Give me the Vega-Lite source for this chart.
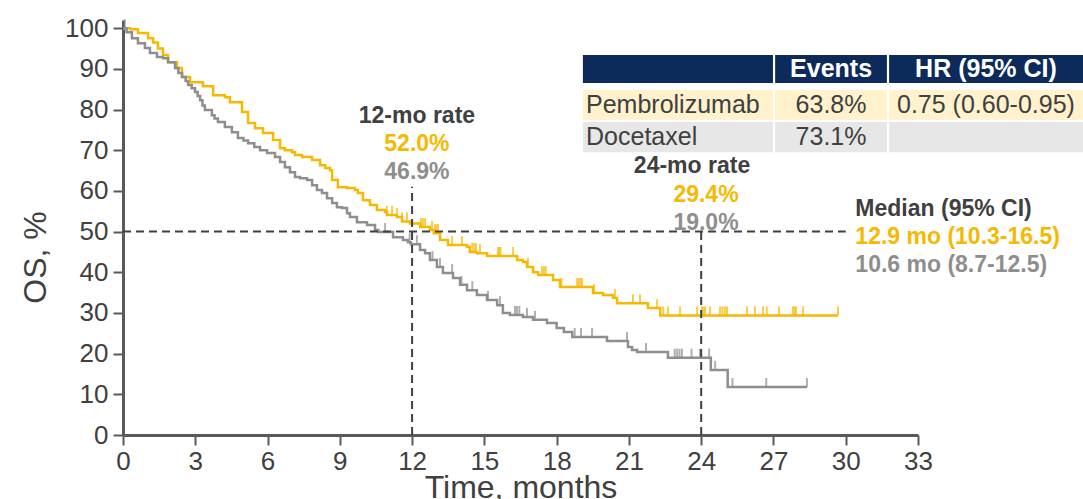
{
  "$schema": "https://vega.github.io/schema/vega-lite/v6.json",
  "width": 795,
  "height": 415,
  "padding": {"left": 123, "top": 20, "right": 165, "bottom": 64},
  "autosize": {"type": "none"},
  "background": "white",
  "config": {
    "font": "Liberation Sans",
    "view": {"stroke": null},
    "axis": {"grid": false}
  },
  "datasets": {
    "km": [
      {"arm": "Pembrolizumab", "time": 0, "surv": 100},
      {"arm": "Pembrolizumab", "time": 0.3, "surv": 99.7},
      {"arm": "Pembrolizumab", "time": 0.62, "surv": 98.8},
      {"arm": "Pembrolizumab", "time": 1.04, "surv": 97.5},
      {"arm": "Pembrolizumab", "time": 1.25, "surv": 96.5},
      {"arm": "Pembrolizumab", "time": 1.45, "surv": 95.0},
      {"arm": "Pembrolizumab", "time": 1.66, "surv": 93.4},
      {"arm": "Pembrolizumab", "time": 1.87, "surv": 91.6},
      {"arm": "Pembrolizumab", "time": 2.24, "surv": 90.2},
      {"arm": "Pembrolizumab", "time": 2.45, "surv": 88.0},
      {"arm": "Pembrolizumab", "time": 2.78, "surv": 86.7},
      {"arm": "Pembrolizumab", "time": 3.32, "surv": 85.7},
      {"arm": "Pembrolizumab", "time": 3.74, "surv": 83.5},
      {"arm": "Pembrolizumab", "time": 4.23, "surv": 83.0},
      {"arm": "Pembrolizumab", "time": 4.44, "surv": 81.8},
      {"arm": "Pembrolizumab", "time": 4.94, "surv": 79.4},
      {"arm": "Pembrolizumab", "time": 5.19, "surv": 76.7},
      {"arm": "Pembrolizumab", "time": 5.48, "surv": 75.4},
      {"arm": "Pembrolizumab", "time": 5.81, "surv": 74.2},
      {"arm": "Pembrolizumab", "time": 6.23, "surv": 72.5},
      {"arm": "Pembrolizumab", "time": 6.52, "surv": 70.5},
      {"arm": "Pembrolizumab", "time": 6.72, "surv": 70.0},
      {"arm": "Pembrolizumab", "time": 7.02, "surv": 69.5},
      {"arm": "Pembrolizumab", "time": 7.14, "surv": 68.8},
      {"arm": "Pembrolizumab", "time": 7.43, "surv": 68.3},
      {"arm": "Pembrolizumab", "time": 7.85, "surv": 67.6},
      {"arm": "Pembrolizumab", "time": 8.18, "surv": 66.3},
      {"arm": "Pembrolizumab", "time": 8.39, "surv": 65.6},
      {"arm": "Pembrolizumab", "time": 8.59, "surv": 65.1},
      {"arm": "Pembrolizumab", "time": 8.68, "surv": 62.7},
      {"arm": "Pembrolizumab", "time": 8.92, "surv": 60.9},
      {"arm": "Pembrolizumab", "time": 9.30, "surv": 60.7},
      {"arm": "Pembrolizumab", "time": 9.63, "surv": 60.2},
      {"arm": "Pembrolizumab", "time": 9.75, "surv": 59.5},
      {"arm": "Pembrolizumab", "time": 9.96, "surv": 57.7},
      {"arm": "Pembrolizumab", "time": 10.25, "surv": 56.5},
      {"arm": "Pembrolizumab", "time": 10.54, "surv": 55.3},
      {"arm": "Pembrolizumab", "time": 10.88, "surv": 54.8},
      {"arm": "Pembrolizumab", "time": 10.96, "surv": 54.1},
      {"arm": "Pembrolizumab", "time": 11.37, "surv": 53.6},
      {"arm": "Pembrolizumab", "time": 11.58, "surv": 52.5},
      {"arm": "Pembrolizumab", "time": 11.91, "surv": 52.0},
      {"arm": "Pembrolizumab", "time": 12.33, "surv": 51.1},
      {"arm": "Pembrolizumab", "time": 12.74, "surv": 50.4},
      {"arm": "Pembrolizumab", "time": 12.9, "surv": 49.6},
      {"arm": "Pembrolizumab", "time": 13.16, "surv": 47.9},
      {"arm": "Pembrolizumab", "time": 13.49, "surv": 46.7},
      {"arm": "Pembrolizumab", "time": 14.28, "surv": 46.2},
      {"arm": "Pembrolizumab", "time": 14.40, "surv": 45.0},
      {"arm": "Pembrolizumab", "time": 14.69, "surv": 44.7},
      {"arm": "Pembrolizumab", "time": 15.11, "surv": 44.0},
      {"arm": "Pembrolizumab", "time": 16.36, "surv": 43.0},
      {"arm": "Pembrolizumab", "time": 16.60, "surv": 42.5},
      {"arm": "Pembrolizumab", "time": 16.77, "surv": 41.3},
      {"arm": "Pembrolizumab", "time": 17.02, "surv": 40.0},
      {"arm": "Pembrolizumab", "time": 17.23, "surv": 39.3},
      {"arm": "Pembrolizumab", "time": 17.85, "surv": 38.1},
      {"arm": "Pembrolizumab", "time": 18.14, "surv": 36.4},
      {"arm": "Pembrolizumab", "time": 19.51, "surv": 34.9},
      {"arm": "Pembrolizumab", "time": 19.93, "surv": 34.4},
      {"arm": "Pembrolizumab", "time": 20.34, "surv": 33.7},
      {"arm": "Pembrolizumab", "time": 20.51, "surv": 32.4},
      {"arm": "Pembrolizumab", "time": 21.79, "surv": 31.2},
      {"arm": "Pembrolizumab", "time": 22.3, "surv": 29.4},
      {"arm": "Pembrolizumab", "time": 29.68, "surv": 29.4},
      {"arm": "Docetaxel", "time": 0, "surv": 100},
      {"arm": "Docetaxel", "time": 0.15, "surv": 99.0},
      {"arm": "Docetaxel", "time": 0.37, "surv": 97.5},
      {"arm": "Docetaxel", "time": 0.62, "surv": 96.3},
      {"arm": "Docetaxel", "time": 0.91, "surv": 95.1},
      {"arm": "Docetaxel", "time": 1.12, "surv": 93.9},
      {"arm": "Docetaxel", "time": 1.41, "surv": 92.9},
      {"arm": "Docetaxel", "time": 1.66, "surv": 92.6},
      {"arm": "Docetaxel", "time": 1.87, "surv": 91.6},
      {"arm": "Docetaxel", "time": 2.16, "surv": 90.2},
      {"arm": "Docetaxel", "time": 2.3, "surv": 89.0},
      {"arm": "Docetaxel", "time": 2.45, "surv": 88.0},
      {"arm": "Docetaxel", "time": 2.6, "surv": 87.0},
      {"arm": "Docetaxel", "time": 2.70, "surv": 86.0},
      {"arm": "Docetaxel", "time": 2.85, "surv": 85.2},
      {"arm": "Docetaxel", "time": 2.99, "surv": 84.3},
      {"arm": "Docetaxel", "time": 3.1, "surv": 83.3},
      {"arm": "Docetaxel", "time": 3.20, "surv": 82.3},
      {"arm": "Docetaxel", "time": 3.3, "surv": 81.0},
      {"arm": "Docetaxel", "time": 3.40, "surv": 79.9},
      {"arm": "Docetaxel", "time": 3.69, "surv": 78.6},
      {"arm": "Docetaxel", "time": 3.8, "surv": 77.8},
      {"arm": "Docetaxel", "time": 3.94, "surv": 76.9},
      {"arm": "Docetaxel", "time": 4.23, "surv": 75.7},
      {"arm": "Docetaxel", "time": 4.52, "surv": 74.4},
      {"arm": "Docetaxel", "time": 4.77, "surv": 73.0},
      {"arm": "Docetaxel", "time": 5.0, "surv": 72.4},
      {"arm": "Docetaxel", "time": 5.19, "surv": 71.7},
      {"arm": "Docetaxel", "time": 5.45, "surv": 70.8},
      {"arm": "Docetaxel", "time": 5.69, "surv": 70.0},
      {"arm": "Docetaxel", "time": 5.98, "surv": 69.3},
      {"arm": "Docetaxel", "time": 6.31, "surv": 68.3},
      {"arm": "Docetaxel", "time": 6.52, "surv": 67.1},
      {"arm": "Docetaxel", "time": 6.72, "surv": 65.8},
      {"arm": "Docetaxel", "time": 6.93, "surv": 64.6},
      {"arm": "Docetaxel", "time": 7.14, "surv": 63.4},
      {"arm": "Docetaxel", "time": 7.35, "surv": 63.1},
      {"arm": "Docetaxel", "time": 7.64, "surv": 62.7},
      {"arm": "Docetaxel", "time": 7.85, "surv": 61.4},
      {"arm": "Docetaxel", "time": 8.05, "surv": 60.2},
      {"arm": "Docetaxel", "time": 8.26, "surv": 59.5},
      {"arm": "Docetaxel", "time": 8.47, "surv": 58.2},
      {"arm": "Docetaxel", "time": 8.68, "surv": 57.0},
      {"arm": "Docetaxel", "time": 8.88, "surv": 56.0},
      {"arm": "Docetaxel", "time": 9.09, "surv": 55.8},
      {"arm": "Docetaxel", "time": 9.30, "surv": 54.5},
      {"arm": "Docetaxel", "time": 9.42, "surv": 53.6},
      {"arm": "Docetaxel", "time": 9.71, "surv": 52.3},
      {"arm": "Docetaxel", "time": 10.13, "surv": 51.6},
      {"arm": "Docetaxel", "time": 10.46, "surv": 50.4},
      {"arm": "Docetaxel", "time": 10.6, "surv": 49.9},
      {"arm": "Docetaxel", "time": 11.21, "surv": 48.6},
      {"arm": "Docetaxel", "time": 11.62, "surv": 47.9},
      {"arm": "Docetaxel", "time": 11.83, "surv": 47.4},
      {"arm": "Docetaxel", "time": 11.95, "surv": 46.9},
      {"arm": "Docetaxel", "time": 12.33, "surv": 45.5},
      {"arm": "Docetaxel", "time": 12.54, "surv": 44.7},
      {"arm": "Docetaxel", "time": 12.74, "surv": 43.0},
      {"arm": "Docetaxel", "time": 13.03, "surv": 41.3},
      {"arm": "Docetaxel", "time": 13.28, "surv": 39.8},
      {"arm": "Docetaxel", "time": 13.70, "surv": 38.6},
      {"arm": "Docetaxel", "time": 13.99, "surv": 36.9},
      {"arm": "Docetaxel", "time": 14.28, "surv": 35.6},
      {"arm": "Docetaxel", "time": 14.69, "surv": 34.4},
      {"arm": "Docetaxel", "time": 15.11, "surv": 33.2},
      {"arm": "Docetaxel", "time": 15.53, "surv": 31.9},
      {"arm": "Docetaxel", "time": 15.77, "surv": 30.0},
      {"arm": "Docetaxel", "time": 16.06, "surv": 29.5},
      {"arm": "Docetaxel", "time": 16.60, "surv": 29.0},
      {"arm": "Docetaxel", "time": 17.02, "surv": 28.3},
      {"arm": "Docetaxel", "time": 17.60, "surv": 27.5},
      {"arm": "Docetaxel", "time": 18.0, "surv": 26.3},
      {"arm": "Docetaxel", "time": 18.3, "surv": 25.3},
      {"arm": "Docetaxel", "time": 18.65, "surv": 24.1},
      {"arm": "Docetaxel", "time": 20.09, "surv": 23.1},
      {"arm": "Docetaxel", "time": 20.96, "surv": 21.6},
      {"arm": "Docetaxel", "time": 21.13, "surv": 20.9},
      {"arm": "Docetaxel", "time": 21.34, "surv": 20.4},
      {"arm": "Docetaxel", "time": 22.62, "surv": 19.0},
      {"arm": "Docetaxel", "time": 24.40, "surv": 16.0},
      {"arm": "Docetaxel", "time": 25.10, "surv": 11.8},
      {"arm": "Docetaxel", "time": 28.39, "surv": 11.8}
    ],
    "censored": [
      {"arm": "Pembrolizumab", "time": 10.96, "surv": 54.1},
      {"arm": "Pembrolizumab", "time": 11.17, "surv": 54.1},
      {"arm": "Pembrolizumab", "time": 11.37, "surv": 53.6},
      {"arm": "Pembrolizumab", "time": 11.58, "surv": 52.5},
      {"arm": "Pembrolizumab", "time": 11.79, "surv": 52.5},
      {"arm": "Pembrolizumab", "time": 12.37, "surv": 51.1},
      {"arm": "Pembrolizumab", "time": 12.45, "surv": 51.1},
      {"arm": "Pembrolizumab", "time": 12.54, "surv": 51.1},
      {"arm": "Pembrolizumab", "time": 12.83, "surv": 50.4},
      {"arm": "Pembrolizumab", "time": 12.95, "surv": 49.6},
      {"arm": "Pembrolizumab", "time": 13.02, "surv": 49.6},
      {"arm": "Pembrolizumab", "time": 13.08, "surv": 49.6},
      {"arm": "Pembrolizumab", "time": 13.66, "surv": 46.7},
      {"arm": "Pembrolizumab", "time": 14.07, "surv": 46.7},
      {"arm": "Pembrolizumab", "time": 14.5, "surv": 45.0},
      {"arm": "Pembrolizumab", "time": 14.58, "surv": 45.0},
      {"arm": "Pembrolizumab", "time": 14.65, "surv": 45.0},
      {"arm": "Pembrolizumab", "time": 14.82, "surv": 44.7},
      {"arm": "Pembrolizumab", "time": 15.57, "surv": 44.0},
      {"arm": "Pembrolizumab", "time": 15.62, "surv": 44.0},
      {"arm": "Pembrolizumab", "time": 15.67, "surv": 44.0},
      {"arm": "Pembrolizumab", "time": 16.19, "surv": 44.0},
      {"arm": "Pembrolizumab", "time": 16.81, "surv": 41.3},
      {"arm": "Pembrolizumab", "time": 17.39, "surv": 39.3},
      {"arm": "Pembrolizumab", "time": 17.47, "surv": 39.3},
      {"arm": "Pembrolizumab", "time": 17.55, "surv": 39.3},
      {"arm": "Pembrolizumab", "time": 18.2, "surv": 36.4},
      {"arm": "Pembrolizumab", "time": 18.85, "surv": 36.4},
      {"arm": "Pembrolizumab", "time": 18.92, "surv": 36.4},
      {"arm": "Pembrolizumab", "time": 18.99, "surv": 36.4},
      {"arm": "Pembrolizumab", "time": 19.05, "surv": 36.4},
      {"arm": "Pembrolizumab", "time": 19.55, "surv": 34.9},
      {"arm": "Pembrolizumab", "time": 20.42, "surv": 33.7},
      {"arm": "Pembrolizumab", "time": 21.17, "surv": 32.4},
      {"arm": "Pembrolizumab", "time": 21.46, "surv": 32.4},
      {"arm": "Pembrolizumab", "time": 22.17, "surv": 31.2},
      {"arm": "Pembrolizumab", "time": 22.42, "surv": 29.4},
      {"arm": "Pembrolizumab", "time": 22.62, "surv": 29.4},
      {"arm": "Pembrolizumab", "time": 23.12, "surv": 29.4},
      {"arm": "Pembrolizumab", "time": 23.83, "surv": 29.4},
      {"arm": "Pembrolizumab", "time": 24.03, "surv": 29.4},
      {"arm": "Pembrolizumab", "time": 24.1, "surv": 29.4},
      {"arm": "Pembrolizumab", "time": 24.16, "surv": 29.4},
      {"arm": "Pembrolizumab", "time": 24.37, "surv": 29.4},
      {"arm": "Pembrolizumab", "time": 24.78, "surv": 29.4},
      {"arm": "Pembrolizumab", "time": 24.88, "surv": 29.4},
      {"arm": "Pembrolizumab", "time": 24.98, "surv": 29.4},
      {"arm": "Pembrolizumab", "time": 25.07, "surv": 29.4},
      {"arm": "Pembrolizumab", "time": 25.9, "surv": 29.4},
      {"arm": "Pembrolizumab", "time": 26.23, "surv": 29.4},
      {"arm": "Pembrolizumab", "time": 26.57, "surv": 29.4},
      {"arm": "Pembrolizumab", "time": 26.72, "surv": 29.4},
      {"arm": "Pembrolizumab", "time": 27.23, "surv": 29.4},
      {"arm": "Pembrolizumab", "time": 27.81, "surv": 29.4},
      {"arm": "Pembrolizumab", "time": 27.88, "surv": 29.4},
      {"arm": "Pembrolizumab", "time": 27.94, "surv": 29.4},
      {"arm": "Pembrolizumab", "time": 28.23, "surv": 29.4},
      {"arm": "Pembrolizumab", "time": 29.68, "surv": 29.4},
      {"arm": "Docetaxel", "time": 0.08, "surv": 100},
      {"arm": "Docetaxel", "time": 10.88, "surv": 49.9},
      {"arm": "Docetaxel", "time": 11.9, "surv": 47.4},
      {"arm": "Docetaxel", "time": 12.2, "surv": 46.9},
      {"arm": "Docetaxel", "time": 12.85, "surv": 43.0},
      {"arm": "Docetaxel", "time": 13.16, "surv": 41.3},
      {"arm": "Docetaxel", "time": 13.66, "surv": 39.8},
      {"arm": "Docetaxel", "time": 14.05, "surv": 36.9},
      {"arm": "Docetaxel", "time": 14.5, "surv": 35.6},
      {"arm": "Docetaxel", "time": 15.15, "surv": 33.2},
      {"arm": "Docetaxel", "time": 15.65, "surv": 31.9},
      {"arm": "Docetaxel", "time": 16.27, "surv": 29.5},
      {"arm": "Docetaxel", "time": 16.35, "surv": 29.5},
      {"arm": "Docetaxel", "time": 16.45, "surv": 29.5},
      {"arm": "Docetaxel", "time": 16.77, "surv": 29.0},
      {"arm": "Docetaxel", "time": 17.1, "surv": 28.3},
      {"arm": "Docetaxel", "time": 18.75, "surv": 24.1},
      {"arm": "Docetaxel", "time": 19.01, "surv": 24.1},
      {"arm": "Docetaxel", "time": 19.47, "surv": 24.1},
      {"arm": "Docetaxel", "time": 20.92, "surv": 23.1},
      {"arm": "Docetaxel", "time": 21.71, "surv": 20.4},
      {"arm": "Docetaxel", "time": 22.9, "surv": 19.0},
      {"arm": "Docetaxel", "time": 23.0, "surv": 19.0},
      {"arm": "Docetaxel", "time": 23.1, "surv": 19.0},
      {"arm": "Docetaxel", "time": 23.2, "surv": 19.0},
      {"arm": "Docetaxel", "time": 23.6, "surv": 19.0},
      {"arm": "Docetaxel", "time": 23.95, "surv": 19.0},
      {"arm": "Docetaxel", "time": 24.33, "surv": 19.0},
      {"arm": "Docetaxel", "time": 24.58, "surv": 16.0},
      {"arm": "Docetaxel", "time": 25.3, "surv": 11.8},
      {"arm": "Docetaxel", "time": 26.7, "surv": 11.8},
      {"arm": "Docetaxel", "time": 28.39, "surv": 11.8}
    ],
    "guides": [
      {"x": 0, "x2": 30, "y": 50, "y2": 50},
      {"x": 12, "x2": 12, "y": 0, "y2": 61},
      {"x": 24, "x2": 24, "y": 0, "y2": 50}
    ],
    "rateNotes": [
      {"series": "note", "x": 12.2, "y": 76.7, "text": "12-mo rate"},
      {"series": "Pembrolizumab", "x": 12.2, "y": 69.9, "text": "52.0%"},
      {"series": "Docetaxel", "x": 12.2, "y": 62.8, "text": "46.9%"},
      {"series": "note", "x": 23.62, "y": 64.3, "text": "24-mo rate"},
      {"series": "Pembrolizumab", "x": 24.2, "y": 57.3, "text": "29.4%"},
      {"series": "Docetaxel", "x": 24.2, "y": 50.4, "text": "19.0%"}
    ],
    "medianNotes": [
      {"series": "note", "x": 30.4, "y": 53.9, "text": "Median (95% CI)"},
      {"series": "Pembrolizumab", "x": 30.4, "y": 47.0, "text": "12.9 mo (10.3-16.5)"},
      {"series": "Docetaxel", "x": 30.4, "y": 40.1, "text": "10.6 mo (8.7-12.5)"}
    ],
    "tableCells": [
      {"row": "header", "x": 19.09, "x2": 26.98, "y": 86.5, "y2": 93.4},
      {"row": "header", "x": 27.07, "x2": 31.71, "y": 86.5, "y2": 93.4},
      {"row": "header", "x": 31.8, "x2": 40, "y": 86.5, "y2": 93.4},
      {"row": "Pembrolizumab", "x": 19.09, "x2": 26.98, "y": 77.4, "y2": 84.8},
      {"row": "Pembrolizumab", "x": 27.07, "x2": 31.71, "y": 77.4, "y2": 84.8},
      {"row": "Pembrolizumab", "x": 31.8, "x2": 40, "y": 77.4, "y2": 84.8},
      {"row": "Docetaxel", "x": 19.09, "x2": 26.98, "y": 69.5, "y2": 76.9},
      {"row": "Docetaxel", "x": 27.07, "x2": 31.71, "y": 69.5, "y2": 76.9},
      {"row": "Docetaxel", "x": 31.8, "x2": 40, "y": 69.5, "y2": 76.9}
    ],
    "tableHeader": [
      {"x": 29.39, "y": 89.9, "text": "Events"},
      {"x": 35.82, "y": 89.9, "text": "HR (95% CI)"}
    ],
    "tableValues": [
      {"x": 29.39, "y": 81.1, "text": "63.8%"},
      {"x": 35.82, "y": 81.1, "text": "0.75 (0.60-0.95)"},
      {"x": 29.39, "y": 73.2, "text": "73.1%"}
    ],
    "tableArms": [
      {"x": 19.22, "y": 81.1, "text": "Pembrolizumab"},
      {"x": 19.22, "y": 73.2, "text": "Docetaxel"}
    ]
  },
  "layer": [
    {
      "data": {"name": "tableCells"},
      "mark": {"type": "rect"},
      "encoding": {
        "x": {"field": "x", "type": "quantitative"},
        "x2": {"field": "x2"},
        "y": {"field": "y", "type": "quantitative"},
        "y2": {"field": "y2"},
        "fill": {
          "field": "row",
          "type": "nominal",
          "scale": {"domain": ["header", "Pembrolizumab", "Docetaxel"], "range": ["#0C2B5B", "#FFF2CC", "#E7E7E7"]},
          "legend": null
        }
      }
    },
    {
      "data": {"name": "tableHeader"},
      "mark": {"type": "text", "align": "center", "baseline": "middle", "fontSize": 25, "fontWeight": "bold", "color": "white"},
      "encoding": {
        "x": {"field": "x", "type": "quantitative"},
        "y": {"field": "y", "type": "quantitative"},
        "text": {"field": "text"}
      }
    },
    {
      "data": {"name": "tableValues"},
      "mark": {"type": "text", "align": "center", "baseline": "middle", "fontSize": 25, "color": "#404040"},
      "encoding": {
        "x": {"field": "x", "type": "quantitative"},
        "y": {"field": "y", "type": "quantitative"},
        "text": {"field": "text"}
      }
    },
    {
      "data": {"name": "tableArms"},
      "mark": {"type": "text", "align": "left", "baseline": "middle", "fontSize": 25, "color": "#404040"},
      "encoding": {
        "x": {"field": "x", "type": "quantitative"},
        "y": {"field": "y", "type": "quantitative"},
        "text": {"field": "text"}
      }
    },
    {
      "data": {"name": "km"},
      "mark": {"type": "line", "interpolate": "step-after", "strokeWidth": 2.5},
      "encoding": {
        "x": {
          "field": "time",
          "type": "quantitative",
          "scale": {"domain": [0, 33], "nice": false, "zero": false},
          "axis": {
            "values": [0, 3, 6, 9, 12, 15, 18, 21, 24, 27, 30, 33],
            "title": "Time, months",
            "titleFontSize": 32,
            "titleFontWeight": "normal",
            "titleColor": "#404040",
            "titlePadding": -2,
            "labelFontSize": 26,
            "labelColor": "#404040",
            "labelPadding": 3,
            "labelFlush": false,
            "domainColor": "#595959",
            "domainWidth": 3,
            "tickColor": "#595959",
            "tickWidth": 2,
            "tickSize": 10
          }
        },
        "y": {
          "field": "surv",
          "type": "quantitative",
          "scale": {"domain": [0, 102], "nice": false},
          "axis": {
            "values": [0, 10, 20, 30, 40, 50, 60, 70, 80, 90, 100],
            "title": "OS, %",
            "titleFontSize": 32,
            "titleFontWeight": "normal",
            "titleColor": "#404040",
            "titlePadding": 12,
            "titleY": 237,
            "labelFontSize": 26,
            "labelColor": "#404040",
            "labelPadding": 5,
            "labelFlush": false,
            "domainColor": "#595959",
            "domainWidth": 3,
            "tickColor": "#595959",
            "tickWidth": 2,
            "tickSize": 10
          }
        },
        "color": {
          "field": "arm",
          "type": "nominal",
          "scale": {"domain": ["Pembrolizumab", "Docetaxel", "note"], "range": ["#F6B800", "#8E8E8E", "#404040"]},
          "legend": null
        },
        "order": {"field": "time", "type": "quantitative"}
      }
    },
    {
      "data": {"name": "censored"},
      "mark": {"type": "tick", "orient": "vertical", "size": 9, "thickness": 2, "yOffset": -4.5},
      "encoding": {
        "x": {"field": "time", "type": "quantitative"},
        "y": {"field": "surv", "type": "quantitative"},
        "color": {"field": "arm", "type": "nominal", "legend": null}
      }
    },
    {
      "data": {"name": "rateNotes"},
      "mark": {"type": "text", "align": "center", "baseline": "alphabetic", "fontSize": 23, "fontWeight": "bold"},
      "encoding": {
        "x": {"field": "x", "type": "quantitative"},
        "y": {"field": "y", "type": "quantitative"},
        "text": {"field": "text"},
        "color": {"field": "series", "type": "nominal", "legend": null}
      }
    },
    {
      "data": {"name": "medianNotes"},
      "mark": {"type": "text", "align": "left", "baseline": "alphabetic", "fontSize": 23, "fontWeight": "bold"},
      "encoding": {
        "x": {"field": "x", "type": "quantitative"},
        "y": {"field": "y", "type": "quantitative"},
        "text": {"field": "text"},
        "color": {"field": "series", "type": "nominal", "legend": null}
      }
    },
    {
      "data": {"name": "guides"},
      "mark": {"type": "rule", "strokeDash": [8, 5], "strokeWidth": 2, "color": "#404040"},
      "encoding": {
        "x": {"field": "x", "type": "quantitative"},
        "x2": {"field": "x2"},
        "y": {"field": "y", "type": "quantitative"},
        "y2": {"field": "y2"}
      }
    }
  ]
}
